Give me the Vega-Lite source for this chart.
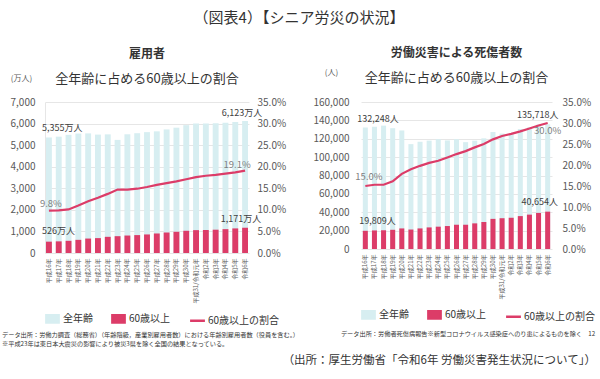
{
  "$schema": "https://vega.github.io/schema/vega-lite/v6.json",
  "background": "white",
  "padding": {"left": 2, "right": 3, "top": 10, "bottom": 5},
  "config": {
    "font": "Noto Sans CJK JP",
    "view": {"stroke": null},
    "axis": {"labelFont": "Noto Sans CJK JP", "titleFont": "Noto Sans CJK JP", "labelColor": "#595959", "ticks": false, "domain": false, "labelOverlap": false},
    "title": {"font": "Noto Sans CJK JP", "color": "#333333", "subtitleFont": "Noto Sans CJK JP", "subtitleColor": "#333333", "fontWeight": "normal"},
    "legend": {"labelFont": "Noto Sans CJK JP"},
    "concat": {"spacing": 0}
  },
  "datasets": {
    "koyo": [
      {"year": "平成16年", "total": 5355, "old": 526, "rate": 0.098, "totLabel": "5,355万人", "oldLabel": "526万人"},
      {"year": "平成17年", "total": 5393, "old": 540, "rate": 0.099},
      {"year": "平成18年", "total": 5478, "old": 565, "rate": 0.101},
      {"year": "平成19年", "total": 5537, "old": 610, "rate": 0.110},
      {"year": "平成20年", "total": 5546, "old": 670, "rate": 0.120},
      {"year": "平成21年", "total": 5489, "old": 690, "rate": 0.128},
      {"year": "平成22年", "total": 5500, "old": 750, "rate": 0.137},
      {"year": "平成23年", "total": 5244, "old": 780, "rate": 0.147},
      {"year": "平成24年", "total": 5504, "old": 810, "rate": 0.147},
      {"year": "平成25年", "total": 5553, "old": 830, "rate": 0.149},
      {"year": "平成26年", "total": 5603, "old": 860, "rate": 0.153},
      {"year": "平成27年", "total": 5640, "old": 905, "rate": 0.158},
      {"year": "平成28年", "total": 5729, "old": 950, "rate": 0.162},
      {"year": "平成29年", "total": 5810, "old": 985, "rate": 0.166},
      {"year": "平成30年", "total": 5927, "old": 1030, "rate": 0.171},
      {"year": "平成31/令和元年", "total": 6004, "old": 1060, "rate": 0.176},
      {"year": "令和2年", "total": 6005, "old": 1065, "rate": 0.179},
      {"year": "令和3年", "total": 6016, "old": 1080, "rate": 0.181},
      {"year": "令和4年", "total": 6041, "old": 1105, "rate": 0.184},
      {"year": "令和5年", "total": 6076, "old": 1140, "rate": 0.187},
      {"year": "令和6年", "total": 6123, "old": 1171, "rate": 0.191, "totLabel": "6,123万人", "oldLabel": "1,171万人"}
    ],
    "saigai": [
      {"year": "平成16年", "total": 132248, "old": 19809, "rate": 0.150, "totLabel": "132,248人", "oldLabel": "19,809人"},
      {"year": "平成17年", "total": 133050, "old": 20200, "rate": 0.153},
      {"year": "平成18年", "total": 134298, "old": 20400, "rate": 0.153},
      {"year": "平成19年", "total": 131478, "old": 20900, "rate": 0.161},
      {"year": "平成20年", "total": 129026, "old": 22400, "rate": 0.179},
      {"year": "平成21年", "total": 114152, "old": 21200, "rate": 0.190},
      {"year": "平成22年", "total": 116733, "old": 22400, "rate": 0.198},
      {"year": "平成23年", "total": 117958, "old": 23500, "rate": 0.205},
      {"year": "平成24年", "total": 119576, "old": 24300, "rate": 0.210},
      {"year": "平成25年", "total": 118157, "old": 25000, "rate": 0.218},
      {"year": "平成26年", "total": 119535, "old": 26400, "rate": 0.226},
      {"year": "平成27年", "total": 116311, "old": 26400, "rate": 0.233},
      {"year": "平成28年", "total": 117910, "old": 27900, "rate": 0.242},
      {"year": "平成29年", "total": 120460, "old": 29400, "rate": 0.250},
      {"year": "平成30年", "total": 127329, "old": 32800, "rate": 0.261},
      {"year": "平成31/令和元年", "total": 125611, "old": 33500, "rate": 0.269},
      {"year": "令和2年", "total": 125115, "old": 34000, "rate": 0.274},
      {"year": "令和3年", "total": 130586, "old": 35800, "rate": 0.280},
      {"year": "令和4年", "total": 132355, "old": 37400, "rate": 0.287},
      {"year": "令和5年", "total": 135371, "old": 39300, "rate": 0.294},
      {"year": "令和6年", "total": 135718, "old": 40654, "rate": 0.300, "totLabel": "135,718人", "oldLabel": "40,654人"}
    ]
  },
  "title": {"text": "（図表4）【シニア労災の状況】", "fontSize": 15, "anchor": "middle", "offset": 21},
  "vconcat": [
    {
      "title": {"text": "（出所：厚生労働省「令和6年 労働災害発生状況について」）", "orient": "bottom", "anchor": "end", "fontSize": 11.5, "offset": 8},
      "spacing": 12,
      "resolve": {"scale": {"color": "independent"}, "legend": {"color": "independent"}},
      "hconcat": [
        {
          "title": {"text": ["データ出所：労働力調査（総務省）（年齢階級，産業別雇用者数）における年齢別雇用者数（役員を含む。）", "※平成23年は東日本大震災の影響により被災3県を除く全国の結果となっている。"], "orient": "bottom", "anchor": "start", "fontSize": 6.2, "lineHeight": 9, "offset": 4, "dx": -8},
          "resolve": {"scale": {"color": "independent"}, "legend": {"color": "independent"}},
          "vconcat": [
            {
              "width": 204,
              "height": 151,
              "data": {"name": "koyo"},
              "title": {"text": "雇用者", "subtitle": "全年齢に占める60歳以上の割合　　　", "fontSize": 12, "fontWeight": "bold", "subtitleFontSize": 13, "subtitlePadding": 12, "anchor": "middle", "offset": -12.5},
              "encoding": {
                "x": {"field": "year", "type": "ordinal", "sort": null, "scale": {"paddingInner": 0.4, "paddingOuter": 0.1},
                  "axis": {"title": null, "labelAngle": 270, "labelFontSize": 6, "labelPadding": 5}}
              },
              "resolve": {"scale": {"y": "independent"}},
              "layer": [
                {
                  "layer": [
                    {
                      "mark": {"type": "bar"},
                      "encoding": {
                        "y": {"field": "total", "type": "quantitative", "scale": {"domain": [0, 7000]},
                          "axis": {"title": "(万人)", "titleAngle": 0, "titleX": -24, "titleY": -24, "titleAlign": "center", "titleBaseline": "middle", "titleFontSize": 8, "titleFontWeight": "normal", "titleColor": "#595959", "format": ",d", "tickCount": 7, "grid": true, "gridColor": "#e6e6e6", "labelFontSize": 10, "labelPadding": 10, "domain": true, "domainColor": "#e6e6e6"}},
                        "color": {"datum": "全年齢", "type": "nominal",
                          "scale": {"domain": ["全年齢", "60歳以上", "60歳以上の割合"], "range": ["#d7eef1", "#dc3c68", "#dc3c68"]},
                          "legend": {"orient": "bottom", "direction": "horizontal", "title": null, "offset": 7, "labelFontSize": 10, "labelColor": "#333333", "symbolSize": 150, "columnPadding": 14, "labelOffset": 3,
                            "encode": {"symbols": {"update": {
                              "shape": {"signal": "datum.value === '60歳以上の割合' ? 'stroke' : 'M-1,-0.6H1V0.6H-1Z'"},
                              "size": {"signal": "datum.value === '60歳以上の割合' ? 220 : 150"},
                              "fill": {"signal": "datum.value === '全年齢' ? '#d7eef1' : datum.value === '60歳以上' ? '#dc3c68' : 'transparent'"},
                              "stroke": {"signal": "datum.value === '60歳以上の割合' ? '#dc3c68' : 'transparent'"},
                              "strokeWidth": {"value": 2.5},
                              "opacity": {"value": 1}
                            }}}}}
                      }
                    },
                    {
                      "mark": {"type": "bar"},
                      "encoding": {"y": {"field": "old", "type": "quantitative"}, "color": {"datum": "60歳以上", "type": "nominal"}}
                    },
                    {
                      "transform": [{"filter": "datum.year === '平成16年'"}],
                      "mark": {"type": "text", "align": "left", "baseline": "middle", "dx": -7, "dy": -9, "fontSize": 9, "color": "#404040"},
                      "encoding": {"y": {"field": "total", "type": "quantitative"}, "text": {"field": "totLabel"}}
                    },
                    {
                      "transform": [{"filter": "datum.year === '令和6年'"}],
                      "mark": {"type": "text", "align": "center", "baseline": "middle", "dx": -3, "dy": -8, "fontSize": 9, "color": "#404040"},
                      "encoding": {"y": {"field": "total", "type": "quantitative"}, "text": {"field": "totLabel"}}
                    },
                    {
                      "transform": [{"filter": "datum.year === '平成16年'"}],
                      "mark": {"type": "text", "align": "left", "baseline": "middle", "dx": -7, "dy": -11, "fontSize": 9, "color": "#404040"},
                      "encoding": {"y": {"field": "old", "type": "quantitative"}, "text": {"field": "oldLabel"}}
                    },
                    {
                      "transform": [{"filter": "datum.year === '令和6年'"}],
                      "mark": {"type": "text", "align": "center", "baseline": "middle", "dx": -4, "dy": -9, "fontSize": 9, "color": "#404040"},
                      "encoding": {"y": {"field": "old", "type": "quantitative"}, "text": {"field": "oldLabel"}}
                    }
                  ]
                },
                {
                  "layer": [
                    {
                      "mark": {"type": "line", "strokeWidth": 2.2},
                      "encoding": {
                        "y": {"field": "rate", "type": "quantitative", "scale": {"domain": [0, 0.35]},
                          "axis": {"orient": "right", "title": null, "format": ".1%", "tickCount": 7, "grid": false, "labelFontSize": 10, "labelPadding": 8, "labelOverlap": false}},
                        "color": {"datum": "60歳以上の割合", "type": "nominal"}
                      }
                    },
                    {
                      "transform": [{"filter": "datum.year === '平成16年'"}],
                      "mark": {"type": "text", "align": "left", "baseline": "middle", "dx": -9, "dy": -7, "fontSize": 9.5, "color": "#7f7f7f"},
                      "encoding": {"y": {"field": "rate", "type": "quantitative"}, "text": {"field": "rate", "format": ".1%"}}
                    },
                    {
                      "transform": [{"filter": "datum.year === '令和6年'"}],
                      "mark": {"type": "text", "align": "center", "baseline": "middle", "dx": -8, "dy": -6, "fontSize": 9.5, "color": "#7f7f7f"},
                      "encoding": {"y": {"field": "rate", "type": "quantitative"}, "text": {"field": "rate", "format": ".1%"}}
                    }
                  ]
                }
              ]
            }
          ]
        },
        {
          "title": {"text": "データ出所：労働者死傷病報告※新型コロナウイルス感染症へのり患によるものを除く　12", "orient": "bottom", "anchor": "start", "fontSize": 6.2, "lineHeight": 9, "offset": 7, "dx": 28},
          "resolve": {"scale": {"color": "independent"}, "legend": {"color": "independent"}},
          "vconcat": [
            {
              "width": 191,
              "height": 147,
              "data": {"name": "saigai"},
              "title": {"text": "労働災害による死傷者数", "subtitle": "全年齢に占める60歳以上の割合　　　", "fontSize": 12, "fontWeight": "bold", "subtitleFontSize": 13, "subtitlePadding": 12, "anchor": "middle", "offset": -17.5},
              "encoding": {
                "x": {"field": "year", "type": "ordinal", "sort": null, "scale": {"paddingInner": 0.45, "paddingOuter": 0.2},
                  "axis": {"title": null, "labelAngle": 270, "labelFontSize": 6, "labelPadding": 5}}
              },
              "resolve": {"scale": {"y": "independent"}},
              "layer": [
                {
                  "layer": [
                    {
                      "mark": {"type": "bar"},
                      "encoding": {
                        "y": {"field": "total", "type": "quantitative", "scale": {"domain": [0, 160000]},
                          "axis": {"title": "(人)", "titleAngle": 0, "titleX": -30, "titleY": -30, "titleAlign": "center", "titleBaseline": "middle", "titleFontSize": 8, "titleFontWeight": "normal", "titleColor": "#595959", "format": ",d", "tickCount": 8, "grid": true, "gridColor": "#e6e6e6", "labelFontSize": 10, "labelPadding": 12, "domain": false}},
                        "color": {"datum": "全年齢", "type": "nominal",
                          "scale": {"domain": ["全年齢", "60歳以上", "60歳以上の割合"], "range": ["#d7eef1", "#dc3c68", "#dc3c68"]},
                          "legend": {"orient": "bottom", "direction": "horizontal", "title": null, "offset": 7, "labelFontSize": 10, "labelColor": "#333333", "symbolSize": 150, "columnPadding": 14, "labelOffset": 3,
                            "encode": {"symbols": {"update": {
                              "shape": {"signal": "datum.value === '60歳以上の割合' ? 'stroke' : 'M-1,-0.6H1V0.6H-1Z'"},
                              "size": {"signal": "datum.value === '60歳以上の割合' ? 220 : 150"},
                              "fill": {"signal": "datum.value === '全年齢' ? '#d7eef1' : datum.value === '60歳以上' ? '#dc3c68' : 'transparent'"},
                              "stroke": {"signal": "datum.value === '60歳以上の割合' ? '#dc3c68' : 'transparent'"},
                              "strokeWidth": {"value": 2.5},
                              "opacity": {"value": 1}
                            }}}}}
                      }
                    },
                    {
                      "mark": {"type": "bar"},
                      "encoding": {"y": {"field": "old", "type": "quantitative"}, "color": {"datum": "60歳以上", "type": "nominal"}}
                    },
                    {
                      "transform": [{"filter": "datum.year === '平成16年'"}],
                      "mark": {"type": "text", "align": "left", "baseline": "middle", "dx": -8, "dy": -8.5, "fontSize": 9, "color": "#404040"},
                      "encoding": {"y": {"field": "total", "type": "quantitative"}, "text": {"field": "totLabel"}}
                    },
                    {
                      "transform": [{"filter": "datum.year === '令和6年'"}],
                      "mark": {"type": "text", "align": "center", "baseline": "middle", "dx": -10, "dy": -9.5, "fontSize": 9, "color": "#404040"},
                      "encoding": {"y": {"field": "total", "type": "quantitative"}, "text": {"field": "totLabel"}}
                    },
                    {
                      "transform": [{"filter": "datum.year === '平成16年'"}],
                      "mark": {"type": "text", "align": "left", "baseline": "middle", "dx": -6, "dy": -10, "fontSize": 9, "color": "#404040"},
                      "encoding": {"y": {"field": "old", "type": "quantitative"}, "text": {"field": "oldLabel"}}
                    },
                    {
                      "transform": [{"filter": "datum.year === '令和6年'"}],
                      "mark": {"type": "text", "align": "center", "baseline": "middle", "dx": -8, "dy": -9.5, "fontSize": 9, "color": "#404040"},
                      "encoding": {"y": {"field": "old", "type": "quantitative"}, "text": {"field": "oldLabel"}}
                    }
                  ]
                },
                {
                  "layer": [
                    {
                      "mark": {"type": "line", "strokeWidth": 2.2},
                      "encoding": {
                        "y": {"field": "rate", "type": "quantitative", "scale": {"domain": [0, 0.35]},
                          "axis": {"orient": "right", "title": null, "format": ".1%", "tickCount": 7, "grid": false, "labelFontSize": 10, "labelPadding": 10, "labelOverlap": false}},
                        "color": {"datum": "60歳以上の割合", "type": "nominal"}
                      }
                    },
                    {
                      "transform": [{"filter": "datum.year === '平成16年'"}],
                      "mark": {"type": "text", "align": "left", "baseline": "middle", "dx": -10, "dy": -9, "fontSize": 9.5, "color": "#7f7f7f"},
                      "encoding": {"y": {"field": "rate", "type": "quantitative"}, "text": {"field": "rate", "format": ".1%"}}
                    },
                    {
                      "transform": [{"filter": "datum.year === '令和6年'"}],
                      "mark": {"type": "text", "align": "center", "baseline": "middle", "dx": 0, "dy": 8, "fontSize": 9.5, "color": "#7f7f7f"},
                      "encoding": {"y": {"field": "rate", "type": "quantitative"}, "text": {"field": "rate", "format": ".1%"}}
                    }
                  ]
                }
              ]
            }
          ]
        }
      ]
    }
  ]
}
